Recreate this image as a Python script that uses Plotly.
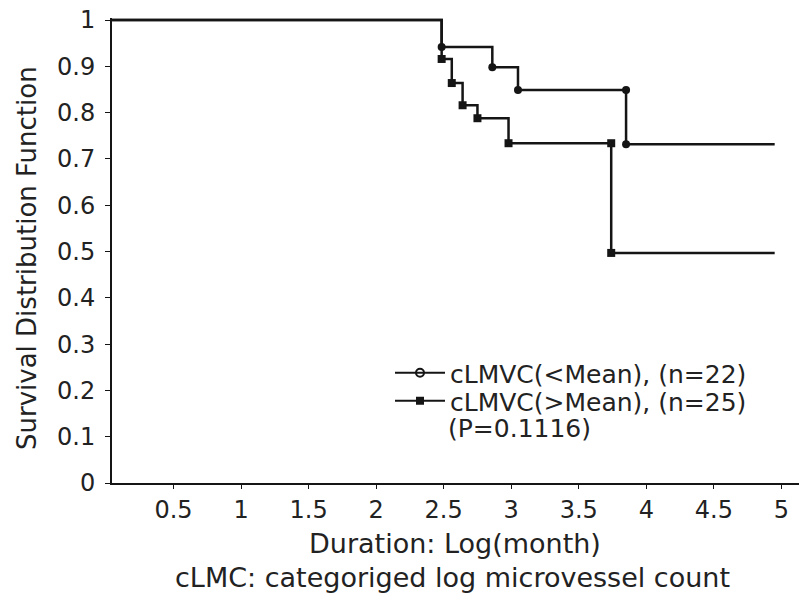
import plotly.graph_objects as go

# ---- data ----
lo_times = [2.485, 2.86, 3.05, 3.85]
lo_surv = [0.942, 0.898, 0.849, 0.732]
lo_end = 4.95
lo_mark_t = [2.485, 2.86, 3.05, 3.85, 3.85]
lo_mark_s = [0.942, 0.898, 0.849, 0.849, 0.732]

hi_times = [2.485, 2.56, 2.64, 2.75, 2.98, 3.74]
hi_surv = [0.916, 0.864, 0.816, 0.788, 0.734, 0.497]
hi_end = 4.95
hi_mark_t = [2.485, 2.56, 2.64, 2.75, 2.98, 3.74, 3.74]
hi_mark_s = [0.916, 0.864, 0.816, 0.788, 0.734, 0.734, 0.497]

x_ticks = [0.5, 1, 1.5, 2, 2.5, 3, 3.5, 4, 4.5, 5]
x_labels = ["0.5", "1", "1.5", "2", "2.5", "3", "3.5", "4", "4.5", "5"]
y_ticks = [0, 0.1, 0.2, 0.3, 0.4, 0.5, 0.6, 0.7, 0.8, 0.9, 1]
y_labels = ["0", "0.1", "0.2", "0.3", "0.4", "0.5", "0.6", "0.7", "0.8", "0.9", "1"]

names = ["cLMVC(&lt;Mean), (n=22)", "cLMVC(&gt;Mean), (n=25)"]
p_text = "(P=0.1116)"

FONT = "DejaVu Sans"
INK = "#151515"
TXT = "#222"

PX_L, PX_W, PX_B, PX_H = 112, 687, 483, 465


def px_x(px):
    return (px - PX_L) / PX_W


def px_y(py):
    return (PX_B - py) / PX_H


fig = go.Figure()

for times, surv, end in [(lo_times, lo_surv, lo_end), (hi_times, hi_surv, hi_end)]:
    fig.add_trace(go.Scatter(
        x=[0] + times + [end], y=[1] + surv + [surv[-1]],
        mode="lines", line=dict(color=INK, width=2.5, shape="hv"),
        showlegend=False, hoverinfo="skip"))

fig.add_trace(go.Scatter(x=lo_mark_t, y=lo_mark_s, mode="markers",
                         marker=dict(symbol="circle", size=8, color=INK),
                         showlegend=False))
fig.add_trace(go.Scatter(x=hi_mark_t, y=hi_mark_s, mode="markers",
                         marker=dict(symbol="square", size=8, color=INK),
                         showlegend=False))

# legend entries (one legend per row so the rows can sit as tightly as in the reference)
fig.add_trace(go.Scatter(x=[None], y=[None], mode="lines+markers", name=names[0],
                         line=dict(color=INK, width=2), legend="legend",
                         marker=dict(symbol="circle-open", size=8, color=INK, line=dict(width=2))))
fig.add_trace(go.Scatter(x=[None], y=[None], mode="lines+markers", name=names[1],
                         line=dict(color=INK, width=2), legend="legend2",
                         marker=dict(symbol="square", size=8, color=INK)))

leg_common = dict(xanchor="left", yanchor="middle", bgcolor="rgba(0,0,0,0)",
                  font=dict(family=FONT, size=25, color=TXT), itemwidth=50)

fig.update_layout(
    width=799, height=596,
    margin=dict(l=PX_L, r=0, t=18, b=113),
    paper_bgcolor="white", plot_bgcolor="white",
    font=dict(family=FONT, size=22, color=TXT),
    legend=dict(x=px_x(390), y=px_y(373), **leg_common),
    legend2=dict(x=px_x(390), y=px_y(401), **leg_common),
    xaxis=dict(range=[0.045, 5.13], tickvals=x_ticks, ticktext=x_labels,
               showgrid=False, zeroline=False, showline=True, linecolor=INK,
               linewidth=2, ticks="outside", ticklen=4, tickcolor=INK,
               ticklabelstandoff=0, tickfont=dict(size=24, color=TXT)),
    yaxis=dict(range=[0, 1.0045], tickvals=y_ticks, ticktext=y_labels,
               showgrid=False, zeroline=False, showline=True, linecolor=INK,
               linewidth=2, ticks="outside", ticklen=5, tickcolor=INK,
               ticklabelstandoff=5, tickfont=dict(size=24, color=TXT)),
    annotations=[
        dict(text=p_text, xref="paper", yref="paper",
             x=px_x(446), y=px_y(428), xanchor="left", yanchor="middle",
             showarrow=False, font=dict(size=25, color=TXT)),
        dict(text="Duration: Log(month)", xref="paper", yref="paper",
             x=px_x(455), y=px_y(543), xanchor="center", yanchor="middle",
             showarrow=False, font=dict(size=27, color=TXT)),
        dict(text="cLMC: categoriged log microvessel count", xref="paper", yref="paper",
             x=px_x(452), y=px_y(577), xanchor="center", yanchor="middle",
             showarrow=False, font=dict(size=27, color=TXT)),
        dict(text="Survival Distribution Function", xref="paper", yref="paper",
             x=px_x(27), y=px_y(258), xanchor="center", yanchor="middle",
             textangle=-90, showarrow=False, font=dict(size=26, color=TXT)),
    ],
)

fig.write_html("out.html")
